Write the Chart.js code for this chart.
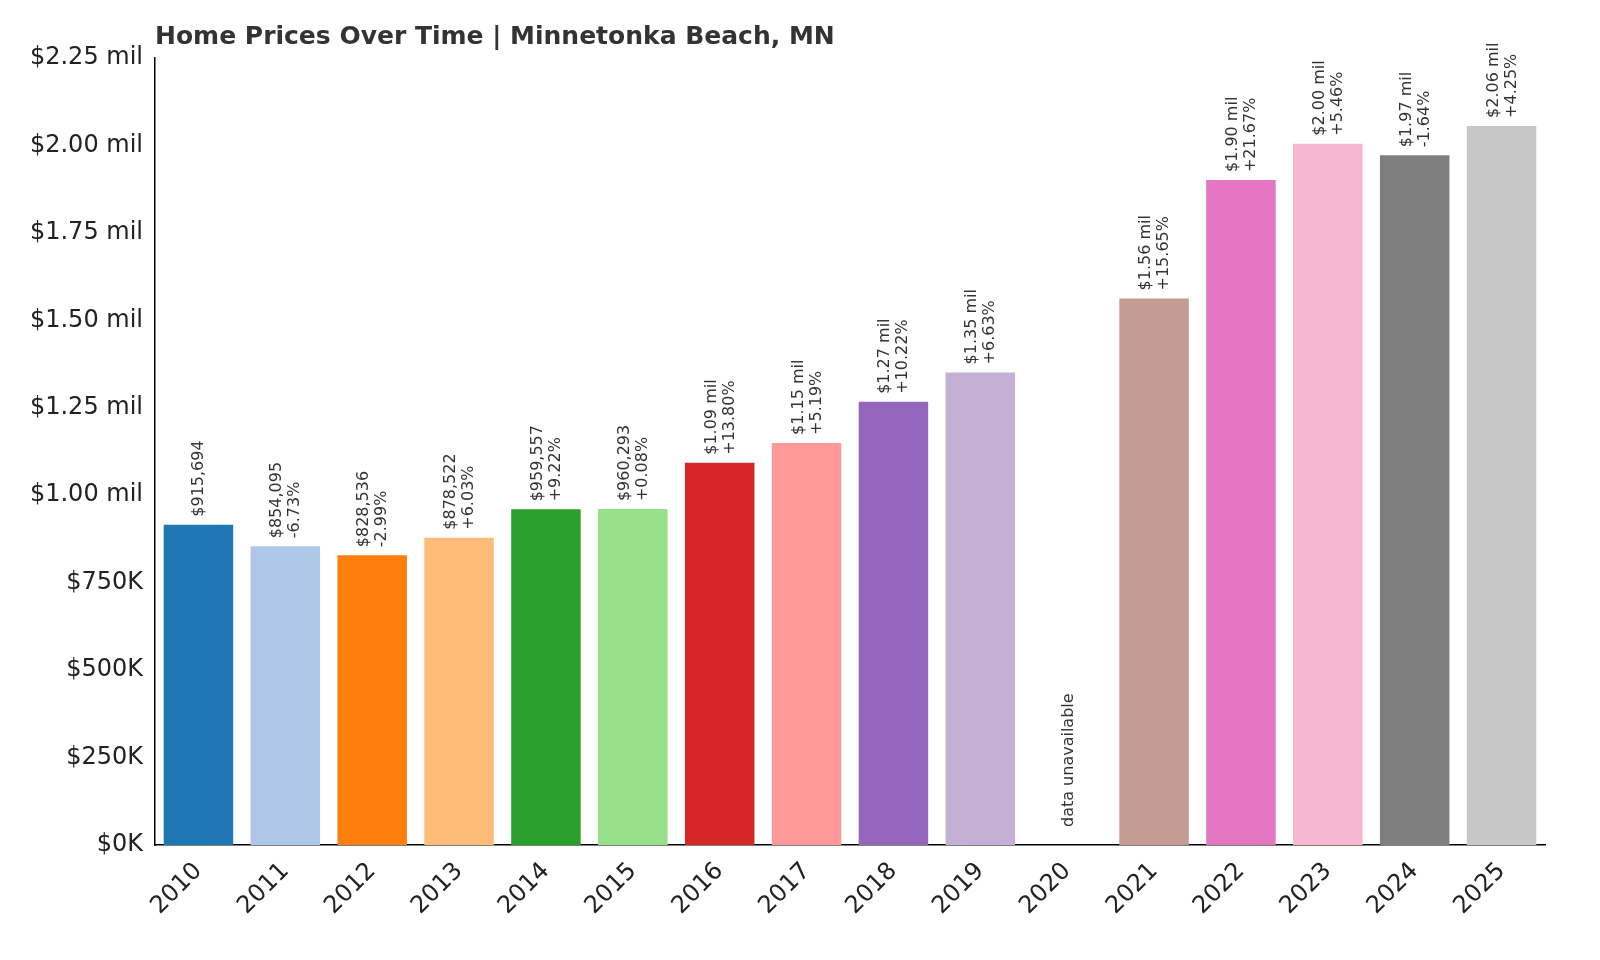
<!DOCTYPE html>
<html><head><meta charset="utf-8">
<script src="https://cdn.jsdelivr.net/npm/chart.js@4/dist/chart.umd.min.js"></script>
<style>html,body{margin:0;background:#fff}#w{width:1600px;height:960px}</style>
</head><body><div id="w"><canvas id="c"></canvas></div>
<script>
const years=['2010','2011','2012','2013','2014','2015','2016','2017','2018','2019','2020','2021','2022','2023','2024','2025'];
const prices=[915694,854095,828536,878522,959557,960293,1092813,1149530,1267012,1351015,null,1562500,1901100,2004900,1972000,2055800];
const priceLabels=['$915,694','$854,095','$828,536','$878,522','$959,557','$960,293','$1.09 mil','$1.15 mil','$1.27 mil','$1.35 mil','','$1.56 mil','$1.90 mil','$2.00 mil','$1.97 mil','$2.06 mil'];
const changeLabels=['','-6.73%','-2.99%','+6.03%','+9.22%','+0.08%','+13.80%','+5.19%','+10.22%','+6.63%','','+15.65%','+21.67%','+5.46%','-1.64%','+4.25%'];
const colors=['#1f77b4','#aec7e8','#ff7f0e','#ffbb78','#2ca02c','#98df8a','#d62728','#ff9896','#9467bd','#c5b0d5','#8c564b','#c49c94','#e377c2','#f7b6d2','#7f7f7f','#c7c7c7'];
const F='"DejaVu Sans", sans-serif';
const labelPlugin={id:'lbl',afterDatasetsDraw(ch){
  const c=ch.ctx,x=ch.scales.x,y=ch.scales.y;
  c.save();c.fillStyle='#333';c.font='bold 25px '+F;c.textBaseline='alphabetic';c.textAlign='left';
  c.fillText('Home Prices Over Time | Minnetonka Beach, MN',ch.chartArea.left,44);
  c.font='16px '+F;
  years.forEach((yr,i)=>{
    const px=x.getPixelForValue(i);
    c.save();
    if(prices[i]==null){c.translate(px+6,y.getPixelForValue(0)-18);c.rotate(-Math.PI/2);c.textAlign='left';c.fillText('data unavailable',0,0);c.restore();return;}
    const py=y.getPixelForValue(prices[i]);
    c.translate(px,py-8);c.rotate(-Math.PI/2);c.textAlign='left';
    if(changeLabels[i]){c.fillText(priceLabels[i],0,-4);c.fillText(changeLabels[i],0,14);}
    else c.fillText(priceLabels[i],0,5);
    c.restore();
  });
  c.restore();
}};
new Chart(document.getElementById('c'),{type:'bar',
 data:{labels:years,datasets:[{data:prices,backgroundColor:colors,barPercentage:0.8,categoryPercentage:1}]},
 options:{responsive:true,maintainAspectRatio:false,animation:false,
  layout:{padding:{top:58,right:55,left:0,bottom:0}},
  plugins:{legend:{display:false},tooltip:{enabled:false}},
  scales:{
   x:{grid:{display:false,drawTicks:true,tickLength:8,tickColor:'#000'},border:{color:'#000',width:1.5},
      ticks:{color:'#222',font:{size:24,family:F},maxRotation:45,minRotation:45,padding:4},
      afterFit(s){s.height=115;}},
   y:{min:0,max:2250000,grid:{display:false,drawTicks:true,tickLength:8,tickColor:'#000'},border:{color:'#000',width:1.5},
      ticks:{stepSize:250000,color:'#222',font:{size:24,family:F},padding:4,
        callback:v=>v>=1000000?'$'+(v/1e6).toFixed(2)+' mil':'$'+(v/1000)+'K'},
      afterFit(s){s.width=155;}}
  }},
 plugins:[labelPlugin]});
</script></body></html>
